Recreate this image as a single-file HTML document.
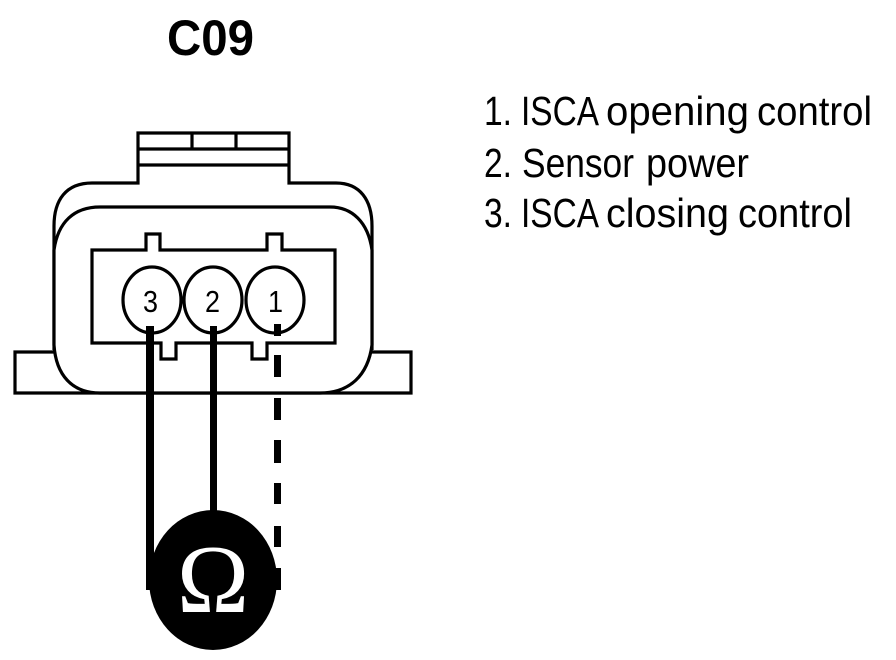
<!DOCTYPE html>
<html><head><meta charset="utf-8"><style>html,body{margin:0;padding:0;background:#fff}svg{display:block}text{font-family:"Liberation Sans",sans-serif;fill:#000}</style></head><body>
<svg width="896" height="660" viewBox="0 0 896 660" xmlns="http://www.w3.org/2000/svg">
<g fill="none" stroke="#000" stroke-width="3.2">
<path d="M15 352H411V393H15Z" fill="#fff"/>
<path d="M54 350V226C54 200 66 183 92 183H138V133H289V183H336C360 183 372 200 372 226V350" fill="#fff"/>
<path d="M54 250C58 222 74 207 100 207H330C352 207 368 222 372 250V345C368 375 350 393 320 393H100C72 393 56 375 54 345Z" fill="#fff"/>
<path d="M138 149H289M138 165H289M192 133V149M236 133V149"/>
<path d="M92 250H146V234H160V250H267V234H282V250H335V343H267V359H252V343H176V359H161V343H92Z"/>
<ellipse cx="152" cy="300" rx="29" ry="33"/>
<ellipse cx="213" cy="300" rx="29" ry="33"/>
<ellipse cx="275" cy="300" rx="29" ry="33"/>
</g>
<text x="143" y="312" font-size="31" textLength="15" lengthAdjust="spacingAndGlyphs">3</text>
<text x="205" y="312" font-size="31" textLength="15" lengthAdjust="spacingAndGlyphs">2</text>
<text x="268" y="312" font-size="31" textLength="15" lengthAdjust="spacingAndGlyphs">1</text>
<ellipse cx="213" cy="580" rx="64" ry="70" fill="#000"/>
<rect x="146" y="326" width="8" height="264" fill="#000"/>
<rect x="210" y="326" width="7" height="190" fill="#000"/>
<g fill="#000">
<rect x="274" y="324" width="7" height="12"/>
<rect x="274" y="355" width="7" height="22"/>
<rect x="274" y="398" width="7" height="22"/>
<rect x="274" y="440" width="7" height="23"/>
<rect x="274" y="483" width="7" height="21"/>
<rect x="274" y="526" width="7" height="21"/>
<rect x="274" y="568" width="7" height="22"/>
</g>
<text x="213" y="612" font-size="97" text-anchor="middle" style="font-family:'Liberation Serif',serif;fill:#fff">Ω</text>
<text x="167" y="55" font-size="50" font-weight="700" textLength="87" lengthAdjust="spacingAndGlyphs">C09</text>
<g font-size="41">
<text x="484" y="125" textLength="28" lengthAdjust="spacingAndGlyphs">1.</text>
<text x="521" y="125" textLength="78" lengthAdjust="spacingAndGlyphs">ISCA</text>
<text x="606" y="125" textLength="143" lengthAdjust="spacingAndGlyphs">opening</text>
<text x="757" y="125" textLength="115" lengthAdjust="spacingAndGlyphs">control</text>
<text x="484" y="177" textLength="28" lengthAdjust="spacingAndGlyphs">2.</text>
<text x="522" y="177" textLength="112" lengthAdjust="spacingAndGlyphs">Sensor</text>
<text x="646" y="177" textLength="103" lengthAdjust="spacingAndGlyphs">power</text>
<text x="484" y="227" textLength="28" lengthAdjust="spacingAndGlyphs">3.</text>
<text x="521" y="227" textLength="78" lengthAdjust="spacingAndGlyphs">ISCA</text>
<text x="606" y="227" textLength="123" lengthAdjust="spacingAndGlyphs">closing</text>
<text x="738" y="227" textLength="114" lengthAdjust="spacingAndGlyphs">control</text>
</g>
</svg>
</body></html>
